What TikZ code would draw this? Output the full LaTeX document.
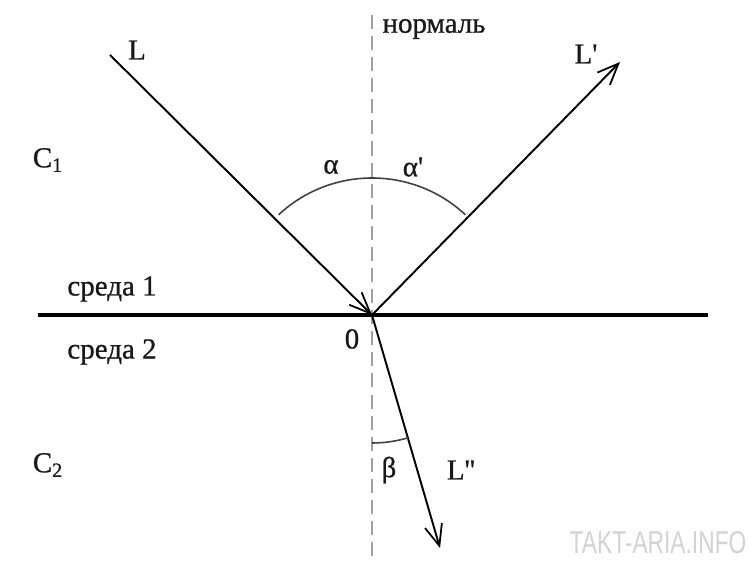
\documentclass[tikz,border=0pt]{standalone}
\usepackage{fontspec}
\setmainfont[AutoFakeBold=0.8]{Liberation Serif}
\newfontfamily\wmfont{Liberation Sans}
\usetikzlibrary{arrows.meta}
\begin{document}
\begin{tikzpicture}[x=0.02cm,y=0.02cm,
  ray/.style={line width=1.1pt,black},
  barb/.style={-{Straight Barb[length=12pt,width=10pt,line width=1pt]}},
  lbl/.style={font=\fontsize{16.5}{18}\selectfont\bfseries,inner sep=0pt,text=black!90},
  anglearc/.style={line width=0.9pt,black!75}]
\useasboundingbox (0,0) rectangle (750,575);
\coordinate (O) at (372,260);
\coordinate (Ls) at (110,520);
\coordinate (Lr) at (620,513);
\coordinate (Lt) at (440,27);
\coordinate (Sl) at (38,260);
\coordinate (Sr) at (708,260);
\coordinate (Nt) at (372,560);
\coordinate (Nb) at (372,15);
% normal
\draw[gray!75,line width=1.2pt,dash pattern=on 8pt off 4pt] (Nt) -- (Nb);
% surface
\draw[line width=2.8pt] (Sl) -- (Sr);
% rays
\draw[ray,barb] (Ls) -- (O);
\draw[ray,barb] (O) -- (Lr);
\draw[ray,barb] (O) -- (Lt);
% angle arcs
\draw[anglearc] (O) ++(133:137) arc[start angle=133,end angle=47,radius=137];
\draw[anglearc] (O) ++(270:128) arc[start angle=270,end angle=286.3,radius=128];
% labels
\node[lbl] (tL) at (137,525) {L};
\node[lbl] (tLr) at (586,521) {L\textquotesingle};
\node[lbl] (tLt) at (461,105) {L\textquotesingle\textquotesingle};
\node[lbl] (tn) at (434,546) {нормаль};
\node[lbl] (ta) at (331,408) {α};
\node[lbl] (tap) at (413,408) {α\textquotesingle};
\node[lbl] (tb) at (389,105) {β};
\node[lbl] (tC1) at (48,415) {C\textsubscript{1}};
\node[lbl] (tC2) at (48,110) {C\textsubscript{2}};
\node[lbl] (ts1) at (112,286) {среда 1};
\node[lbl] (ts2) at (112,223) {среда 2};
\node[lbl] (t0) at (352,236) {0};
\node[font=\wmfont\fontsize{18}{20}\selectfont,text=gray!35,xscale=0.72,inner sep=0pt] (wm) at (658,32) {TAKT-ARIA.INFO};
\end{tikzpicture}
\end{document}
